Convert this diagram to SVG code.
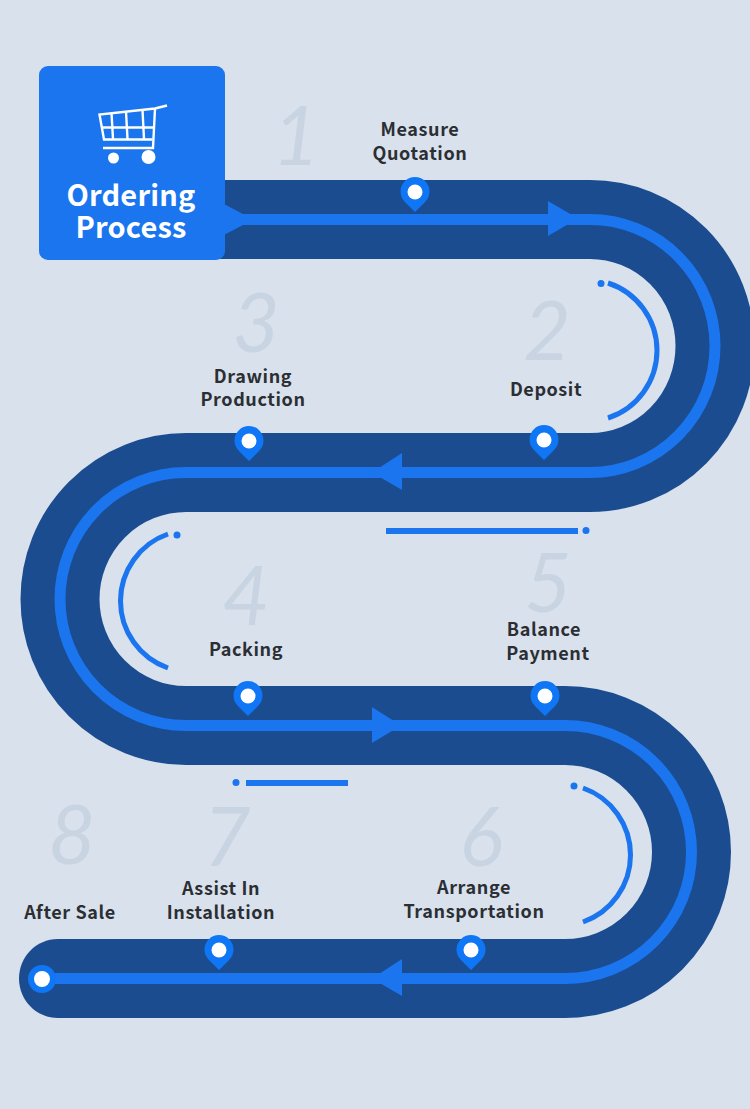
<svg xmlns="http://www.w3.org/2000/svg" width="750" height="1109" viewBox="0 0 750 1109">
<style>
.lbl{font-family:"Noto Sans CJK SC","Noto Sans",sans-serif;font-weight:700;font-size:18px;fill:#2b2e33;text-anchor:middle;letter-spacing:.6px}
.title{font-family:"Noto Sans CJK SC","Noto Sans",sans-serif;font-weight:700;font-size:29px;fill:#fff;text-anchor:middle;letter-spacing:.2px}
.num{font-family:"Lato","Open Sans",sans-serif;font-weight:400;font-style:italic;font-size:82px;fill:#c9d4e3;text-anchor:middle}
.ring{fill:none;stroke:#1a75ee;stroke-width:5}
.bar{fill:none;stroke:#1a75ee;stroke-width:6}
.dot{fill:#1a75ee}
.head{fill:#1a75ee}
.pinb{fill:#0f77f5}
.cart{fill:none;stroke:#fff;stroke-width:2.400}
</style>
<defs>
<g id="pin"><path class="pinb" d="M0 20 L-10.500 9.500 A14.500 14.500 0 1 1 10.500 9.500 Z"/><circle r="7.500" fill="#fff"/></g>
</defs>
<rect width="750" height="1109" fill="#d8e1ec"/>
<g id="connectors">
<path id="band" d="M220 219.500H590A125 126.500 0 0 1 590 472.500H186A126 126.500 0 0 0 186 725.500H565A126.500 126.500 0 0 1 565 978.500H58" fill="none" stroke="#1b4c8f" stroke-width="79"/>
<path id="band-end" d="M58 939C36 939 19 957 19 978.500C19 1000 36 1018 58 1018Z" fill="#1b4c8f"/>
<path id="route" d="M225 219.500H590A125 126.500 0 0 1 590 472.500H186A126 126.500 0 0 0 186 725.500H565A126.500 126.500 0 0 1 565 978.500H42" fill="none" stroke="#1a75ee" stroke-width="11"/>
<path class="head" d="M224 204L243 214V225L224 235Z"/>
<path class="head" d="M548 201L578 218.500L548 236Z"/>
<path class="head" d="M402 453L372 472.500L402 490Z"/>
<path class="head" d="M372 707L401 725.500L372 743Z"/>
<path class="head" d="M402 959L372 978.500L402 996Z"/>
<path class="ring" d="M608 283A71 71 0 0 1 608 418"/>
<circle class="dot" cx="601" cy="283.500" r="3.500"/>
<path class="ring" d="M168 534A71 71 0 0 0 168 668"/>
<circle class="dot" cx="177" cy="535" r="3.500"/>
<path class="ring" d="M583 788A71 71 0 0 1 583 922"/>
<circle class="dot" cx="574" cy="786" r="3.500"/>
<path class="bar" d="M386 531H578"/>
<circle class="dot" cx="586" cy="530.500" r="3.500"/>
<path class="bar" d="M246 783H348"/>
<circle class="dot" cx="236" cy="782.500" r="3.500"/>
</g>
<g id="start">
<rect x="39" y="66" width="186" height="194" rx="9" fill="#1a75ee"/>
<g id="cart-icon" class="cart">
<path d="M167 105.500L155 108.500L99.500 114.500L104 139.500H152.500"/>
<path d="M155 108.500L153 148H103"/>
<path d="M101.500 127.500H154"/>
<path d="M111.500 113L113 139M126 111.500L127.500 139M142.500 110L144 139"/>
</g>
<circle cx="113.500" cy="158" r="5.500" fill="#fff"/>
<circle cx="148.500" cy="157" r="7" fill="#fff"/>
<text class="title" x="131" y="206">Ordering</text>
<text class="title" x="131" y="238">Process</text>
</g>
<g id="step1"><text class="num" x="296" y="165">1</text><text class="lbl" x="420" y="136">Measure</text><text class="lbl" x="420" y="160">Quotation</text><use href="#pin" x="415" y="192"/></g>
<g id="step2"><text class="num" x="547" y="360">2</text><text class="lbl" x="546" y="396">Deposit</text><use href="#pin" x="544" y="440"/></g>
<g id="step3"><text class="num" x="256" y="352">3</text><text class="lbl" x="253" y="383">Drawing</text><text class="lbl" x="253" y="406">Production</text><use href="#pin" x="249" y="441"/></g>
<g id="step4"><text class="num" x="246" y="625">4</text><text class="lbl" x="246" y="656">Packing</text><use href="#pin" x="248" y="696"/></g>
<g id="step5"><text class="num" x="548" y="612">5</text><text class="lbl" x="544" y="636">Balance</text><text class="lbl" x="548" y="660">Payment</text><use href="#pin" x="545" y="696"/></g>
<g id="step6"><text class="num" x="481" y="866">6</text><text class="lbl" x="474" y="894">Arrange</text><text class="lbl" x="474" y="918">Transportation</text><use href="#pin" x="471" y="950"/></g>
<g id="step7"><text class="num" x="227" y="866">7</text><text class="lbl" x="221" y="895">Assist In</text><text class="lbl" x="221" y="919">Installation</text><use href="#pin" x="219" y="950"/></g>
<g id="step8"><text class="num" x="72" y="864">8</text><text class="lbl" x="70" y="919">After Sale</text>
<circle cx="42" cy="979" r="14" fill="#0f77f5"/><circle cx="42" cy="979" r="8" fill="#fff"/></g>
</svg>
